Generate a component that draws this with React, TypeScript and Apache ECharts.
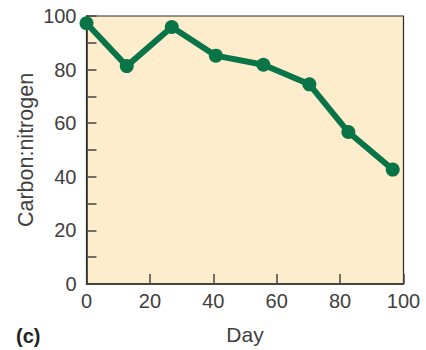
import React, { useEffect, useRef } from "react";
import * as echarts from "echarts";

const days = [0, 12.7, 26.9, 40.8, 55.8, 70.3, 82.6, 96.6];
const cnRatio = [97.3, 81.3, 95.9, 85.2, 81.8, 74.5, 56.7, 42.7];
const xTicks = [0, 20, 40, 60, 80, 100];
const yTicks = [0, 20, 40, 60, 80, 100];
const xName = "Day";
const yName = "Carbon:nitrogen";
const panelLabel = "(c)";

export default function App() {
  const ref = useRef<HTMLDivElement>(null);
  useEffect(() => {
    document.body.style.margin = "0";
    const chart = echarts.init(ref.current!, null, { renderer: "svg" });
    const font = "'Liberation Sans', Arial, sans-serif";
    const textColor = "#404040";
    chart.setOption({
      animation: false,
      grid: {
        left: 86.5,
        right: 22.5,
        top: 16,
        bottom: 59.3,
        show: true,
        backgroundColor: "#fdedcd",
        borderColor: "#2a2a2a",
        borderWidth: 1.2,
      },
      xAxis: {
        type: "value",
        min: xTicks[0],
        max: xTicks[xTicks.length - 1],
        interval: 20,
        name: xName,
        nameLocation: "middle",
        nameGap: 40,
        nameMoveOverlap: false,
        nameTextStyle: { fontFamily: font, fontSize: 21, color: textColor },
        axisLine: { show: true, lineStyle: { color: "#2a2a2a", width: 1.5 } },
        axisTick: { show: true, inside: true, length: 10, lineStyle: { color: "#444", width: 1.5 } },
        axisLabel: { fontFamily: font, fontSize: 20, color: textColor, margin: 7 },
        splitLine: { show: false },
      },
      yAxis: {
        type: "value",
        min: yTicks[0],
        max: yTicks[yTicks.length - 1],
        interval: 20,
        name: yName,
        nameLocation: "middle",
        nameGap: 50,
        nameMoveOverlap: false,
        nameTextStyle: { fontFamily: font, fontSize: 21.5, color: textColor },
        axisLine: { show: true, lineStyle: { color: "#2a2a2a", width: 1.5 } },
        axisTick: { show: true, inside: true, length: 10, lineStyle: { color: "#444", width: 1.5 } },
        minorTick: { show: true, splitNumber: 2, length: 10, lineStyle: { color: "#444", width: 1.5 } },
        axisLabel: { fontFamily: font, fontSize: 20, color: textColor, margin: 10 },
        splitLine: { show: false },
      },
      graphic: [
        {
          type: "text",
          left: 16,
          top: 326,
          style: {
            text: panelLabel,
            font: `bold 20px ${font}`,
            fill: "#222",
          },
        },
      ],
      series: [
        {
          type: "line",
          data: days.map((d, i) => [d, cnRatio[i]]),
          symbol: "circle",
          symbolSize: 14,
          itemStyle: { color: "#087447" },
          lineStyle: { color: "#087447", width: 6 },
          clip: false,
        },
      ],
    });
    return () => chart.dispose();
  }, []);
  return <div ref={ref} style={{ width: 426, height: 350 }} />;
}
